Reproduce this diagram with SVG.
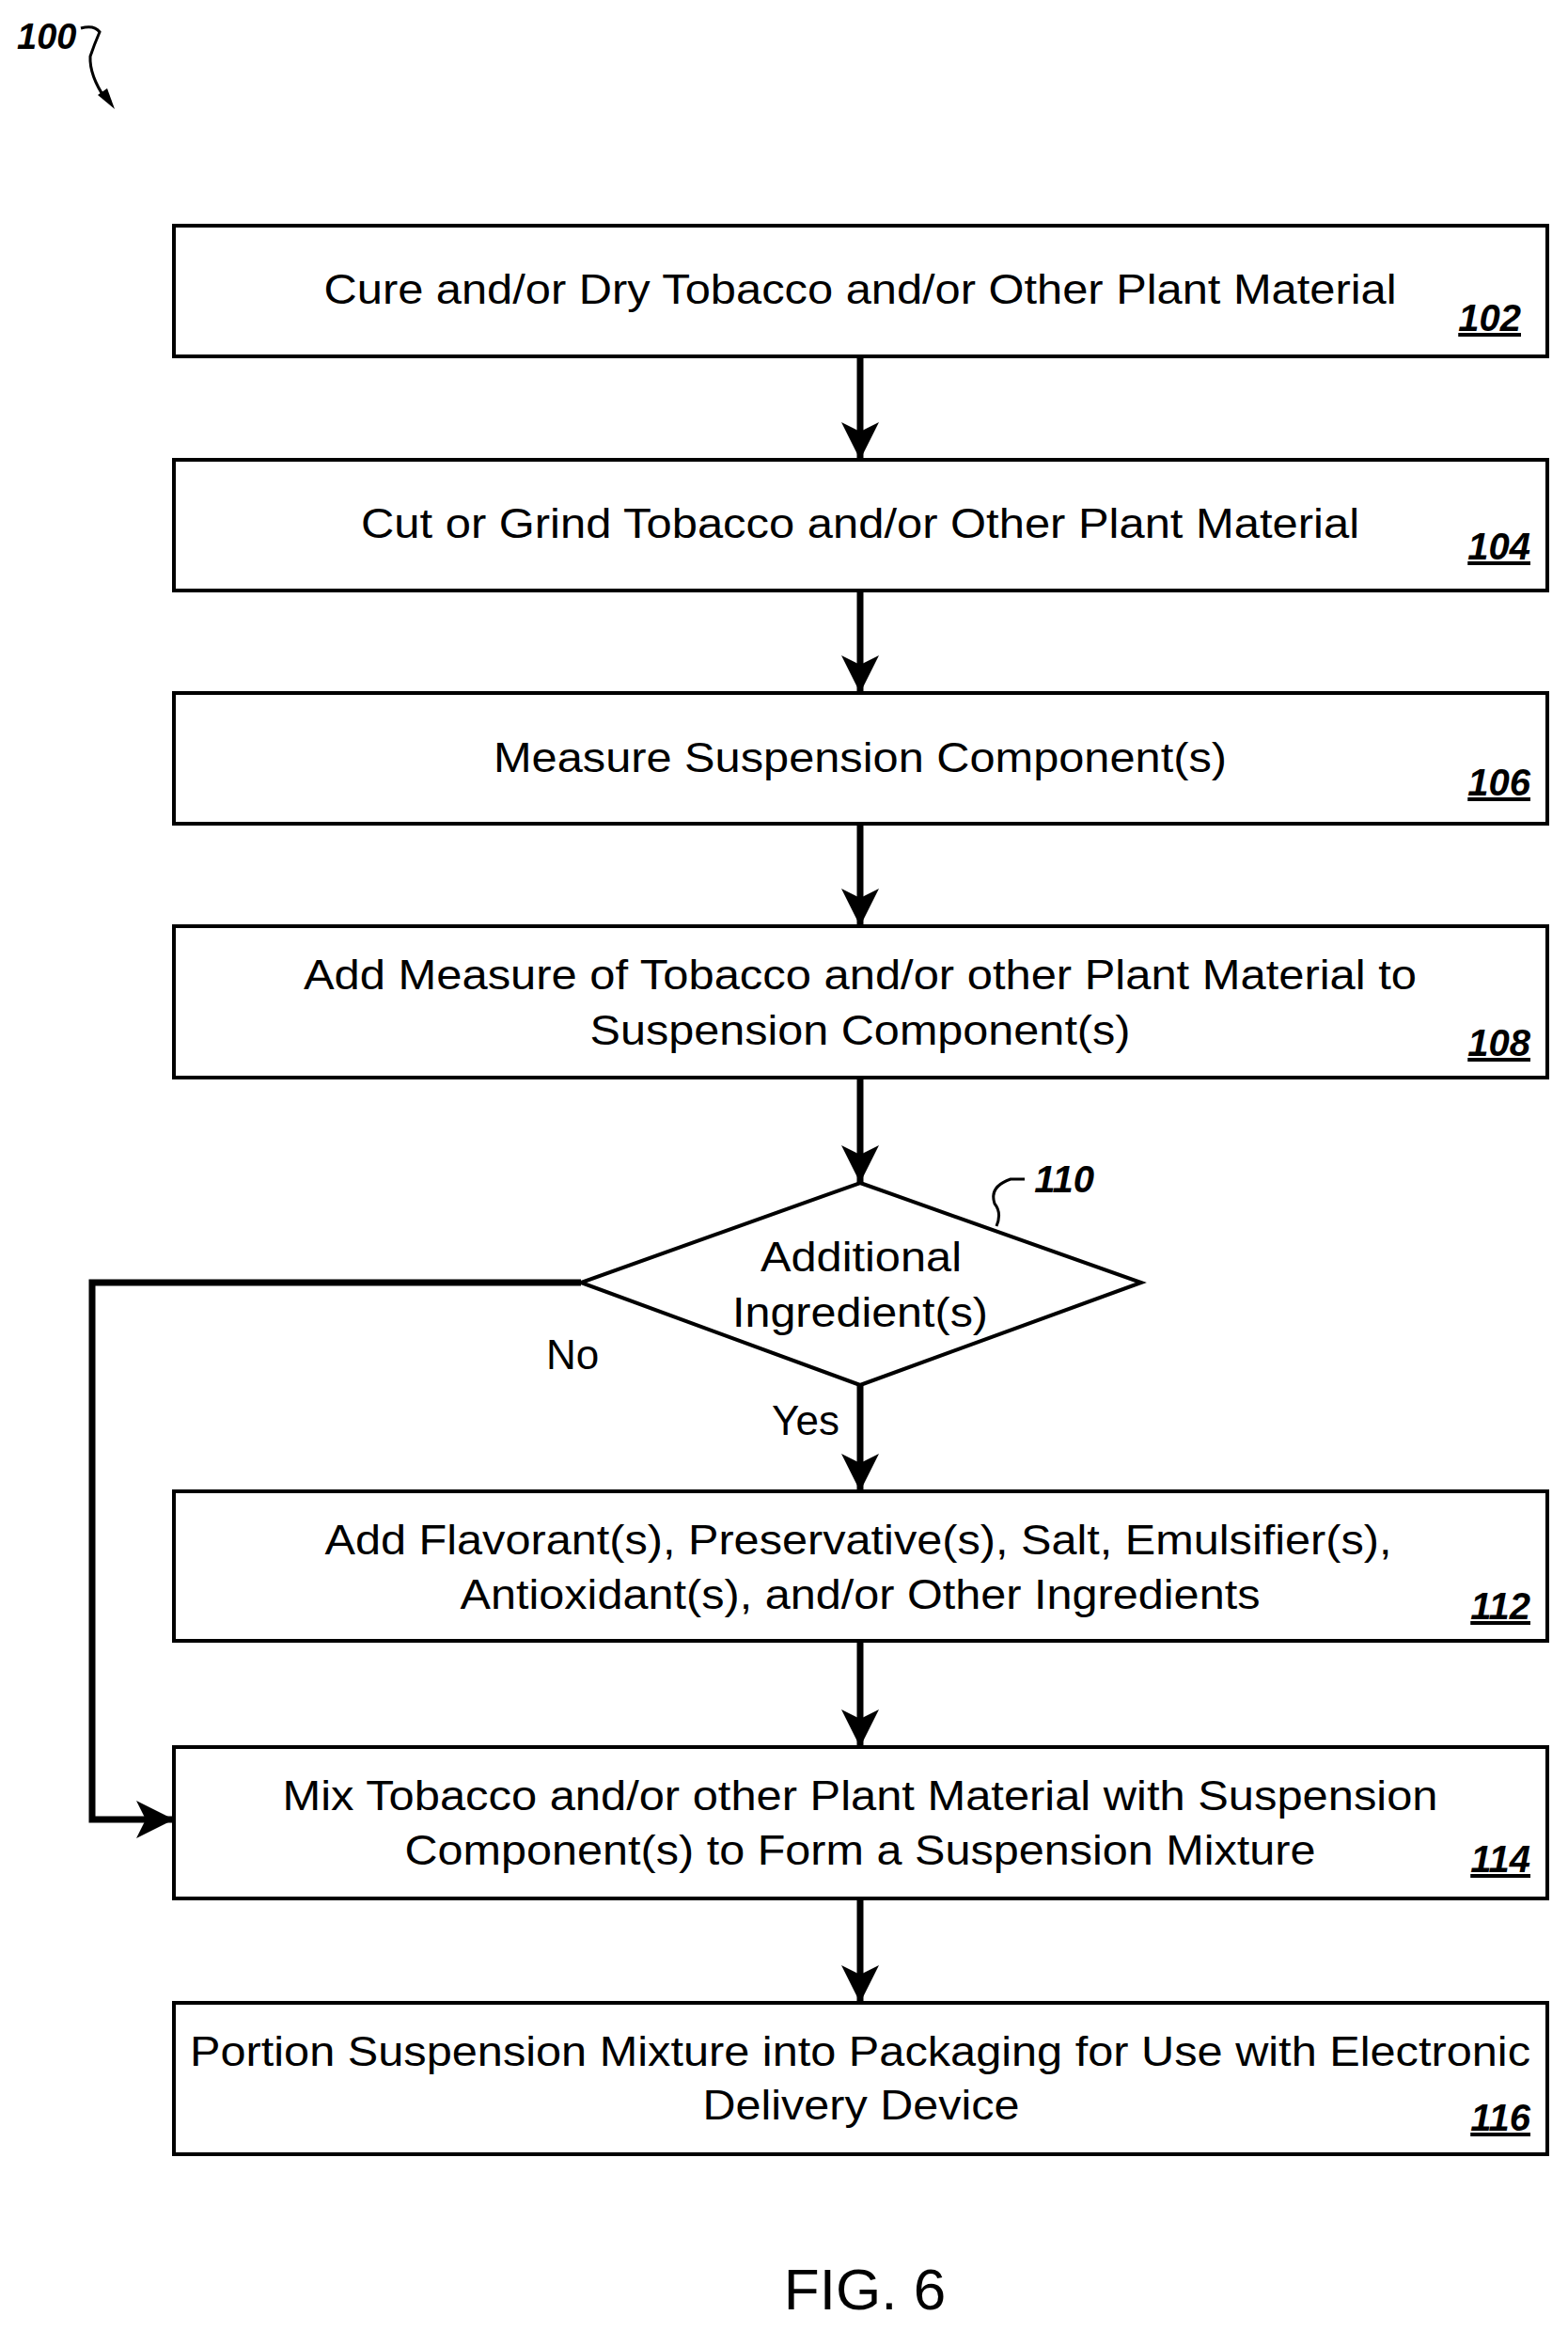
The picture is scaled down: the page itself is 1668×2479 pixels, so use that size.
<svg xmlns="http://www.w3.org/2000/svg" width="1668" height="2479" viewBox="0 0 1668 2479">
<style>
.box{fill:#fff;stroke:#000;stroke-width:4}
.t{font-family:"Liberation Sans",Arial,sans-serif;font-size:44px;text-anchor:middle;fill:#000}
.n{font-family:"Liberation Sans",Arial,sans-serif;font-size:40px;font-style:italic;font-weight:bold;text-anchor:end;text-decoration:underline;fill:#000}
.c{fill:none;stroke:#000;stroke-width:7}
</style>
<defs>
<marker id="ah" markerUnits="userSpaceOnUse" markerWidth="44" markerHeight="44" refX="40" refY="20" orient="auto">
<path d="M0,0 L40,20 L0,40 L10,20 Z" fill="#000"/>
</marker>
</defs>
<rect width="1668" height="2479" fill="#fff"/>
<g id="label100">
<text x="18" y="52" font-family="Liberation Sans,Arial,sans-serif" font-size="38" font-style="italic" font-weight="bold">100</text>
<path d="M86,30 Q100,26 106,34 Q100,48 96,60 Q95,80 112,105" fill="none" stroke="#000" stroke-width="3"/>
<path d="M104,101 L122,116 L114,94 Z" fill="#000"/>
</g>
<g id="connectors">
<line class="c" x1="915" y1="379" x2="915" y2="489" marker-end="url(#ah)"/>
<line class="c" x1="915" y1="628" x2="915" y2="737" marker-end="url(#ah)"/>
<line class="c" x1="915" y1="876" x2="915" y2="985" marker-end="url(#ah)"/>
<line class="c" x1="915" y1="1146" x2="915" y2="1258" marker-end="url(#ah)"/>
<line class="c" x1="915" y1="1473" x2="915" y2="1586" marker-end="url(#ah)"/>
<line class="c" x1="915" y1="1745" x2="915" y2="1858" marker-end="url(#ah)"/>
<line class="c" x1="915" y1="2019" x2="915" y2="2130" marker-end="url(#ah)"/>
<polyline class="c" points="618,1364 98,1364 98,1935 185,1935" marker-end="url(#ah)"/>
<text class="t" x="609" y="1456">No</text>
<text class="t" x="857" y="1526">Yes</text>
</g>
<g id="n102"><rect class="box" x="185" y="240" width="1461" height="139"/>
<text class="t" x="915" y="323" textLength="1141" lengthAdjust="spacingAndGlyphs">Cure and/or Dry Tobacco and/or Other Plant Material</text>
<text class="n" x="1618" y="352">102</text></g>
<g id="n104"><rect class="box" x="185" y="489" width="1461" height="139"/>
<text class="t" x="915" y="572" textLength="1062" lengthAdjust="spacingAndGlyphs">Cut or Grind Tobacco and/or Other Plant Material</text>
<text class="n" x="1628" y="595">104</text></g>
<g id="n106"><rect class="box" x="185" y="737" width="1461" height="139"/>
<text class="t" x="915" y="821" textLength="780" lengthAdjust="spacingAndGlyphs">Measure Suspension Component(s)</text>
<text class="n" x="1628" y="846">106</text></g>
<g id="n108"><rect class="box" x="185" y="985" width="1461" height="161"/>
<text class="t" x="915" y="1052" textLength="1184" lengthAdjust="spacingAndGlyphs">Add Measure of Tobacco and/or other Plant Material to</text>
<text class="t" x="915" y="1111" textLength="575" lengthAdjust="spacingAndGlyphs">Suspension Component(s)</text>
<text class="n" x="1628" y="1123">108</text></g>
<g id="n110"><polygon points="915,1258 1214,1364 915,1473 618,1364" fill="#fff" stroke="#000" stroke-width="4"/>
<text class="t" x="916" y="1352" textLength="214" lengthAdjust="spacingAndGlyphs">Additional</text>
<text class="t" x="915" y="1411" textLength="272" lengthAdjust="spacingAndGlyphs">Ingredient(s)</text>
<path d="M1060,1304 Q1066,1290 1058,1280 Q1052,1262 1075,1254 L1090,1254" fill="none" stroke="#000" stroke-width="3"/>
<text class="n" x="1164" y="1268" style="text-decoration:none">110</text></g>
<g id="n112"><rect class="box" x="185" y="1586" width="1461" height="159"/>
<text class="t" x="913" y="1653" textLength="1135" lengthAdjust="spacingAndGlyphs">Add Flavorant(s), Preservative(s), Salt, Emulsifier(s),</text>
<text class="t" x="915" y="1711" textLength="851" lengthAdjust="spacingAndGlyphs">Antioxidant(s), and/or Other Ingredients</text>
<text class="n" x="1628" y="1722">112</text></g>
<g id="n114"><rect class="box" x="185" y="1858" width="1461" height="161"/>
<text class="t" x="915" y="1925" textLength="1229" lengthAdjust="spacingAndGlyphs">Mix Tobacco and/or other Plant Material with Suspension</text>
<text class="t" x="915" y="1983" textLength="969" lengthAdjust="spacingAndGlyphs">Component(s) to Form a Suspension Mixture</text>
<text class="n" x="1628" y="1991">114</text></g>
<g id="n116"><rect class="box" x="185" y="2130" width="1461" height="161"/>
<text class="t" x="915" y="2197" textLength="1426" lengthAdjust="spacingAndGlyphs">Portion Suspension Mixture into Packaging for Use with Electronic</text>
<text class="t" x="916" y="2254" textLength="337" lengthAdjust="spacingAndGlyphs">Delivery Device</text>
<text class="n" x="1628" y="2266">116</text></g>
<text x="920" y="2456" font-family="Liberation Sans,Arial,sans-serif" font-size="62" text-anchor="middle">FIG. 6</text>
</svg>
